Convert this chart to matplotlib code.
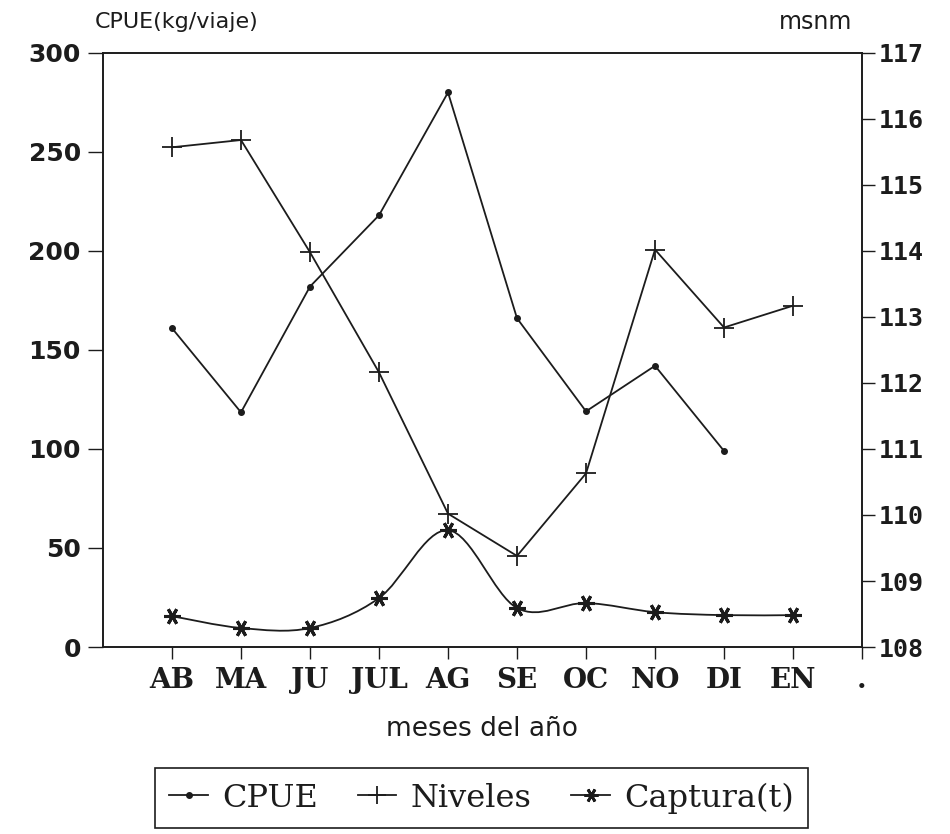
import matplotlib.pyplot as plt
import numpy as np
from matplotlib.lines import Line2D
from matplotlib.path import Path
from matplotlib.patches import PathPatch

MESES = ["AB", "MA", "JU", "JUL", "AG", "SE", "OC", "NO", "DI", "EN"]
CPUE = [161, 118.5, 182, 218, 280, 166, 119, 142, 99]          # kg/viaje, AB..DI
NIVELES = [115.57, 115.68, 113.98, 112.16, 110.02, 109.38, 110.63, 114.02, 112.84, 113.17]  # msnm
CAPTURA = [15.6, 9.6, 9.6, 24.7, 59, 19.7, 22.2, 17.6, 16.1, 16.1]  # t

INK = "#1c1c1c"

plt.rcParams.update({
    "figure.facecolor": "white",
    "axes.facecolor": "white",
    "axes.edgecolor": INK,
    "text.color": INK,
    "xtick.color": INK,
    "ytick.color": INK,
})


def smooth_path(xs, ys):
    # Catmull-Rom curve through the points, as cubic bezier segments
    pts = np.column_stack([xs, ys]).astype(float)
    n = len(pts)
    verts = [pts[0]]
    codes = [Path.MOVETO]
    for i in range(n - 1):
        p0 = pts[i - 1] if i > 0 else pts[i]
        p1, p2 = pts[i], pts[i + 1]
        p3 = pts[i + 2] if i + 2 < n else pts[i + 1]
        verts += [p1 + (p2 - p0) / 6, p2 - (p3 - p1) / 6, p2]
        codes += [Path.CURVE4] * 3
    return Path(verts, codes)


fig = plt.figure(figsize=(9.5, 8.34), dpi=100)
ax = fig.add_axes([0.1084, 0.2242, 0.799, 0.7124])
ax2 = ax.twinx()

x_all = np.arange(1, len(MESES) + 1)

ax.plot(x_all[:len(CPUE)], CPUE, color=INK, lw=1.3, marker="o", ms=4, zorder=3)

ax.add_patch(PathPatch(smooth_path(x_all, CAPTURA), facecolor="none", edgecolor=INK, lw=1.3, zorder=3))
cap_marker = (6, 2, 30)
ax.plot(x_all, CAPTURA, ls="none", marker=cap_marker, ms=12, mew=2.2, color=INK, zorder=4)

ax2.plot(x_all, NIVELES, color=INK, lw=1.3, marker="+", ms=15, mew=1.3, zorder=3)

ax.set_xlim(0, 11)
ax.set_ylim(0, 300)
ax2.set_ylim(108, 117)

ax.set_xticks(list(x_all) + [11])
ax.set_xticklabels(MESES + ["."], fontsize=20, fontweight="bold", family="DejaVu Serif")
ax.set_yticks(range(0, 301, 50))
ax.tick_params(axis="y", direction="out", length=11, width=1, pad=5)
for lab in ax.get_yticklabels():
    lab.set_fontsize(18)
    lab.set_fontweight("bold")
ax.tick_params(axis="x", direction="out", length=8.6, width=1, pad=6)

ax2.set_yticks(range(108, 118))
ax2.tick_params(axis="y", direction="out", length=9, width=1, pad=3)
for lab in ax2.get_yticklabels():
    lab.set_fontsize(18)
    lab.set_fontweight("bold")
    lab.set_family("DejaVu Sans Mono")

for a in (ax, ax2):
    for sp in a.spines.values():
        sp.set_linewidth(1.2)
        sp.set_color(INK)

fig.text(95 / 950, 1 - 22 / 834, "CPUE(kg/viaje)", fontsize=16, ha="left", va="center")
fig.text(852 / 950, 1 - 22 / 834, "msnm", fontsize=17, ha="right", va="center")
fig.text(482 / 950, 1 - 729 / 834, "meses del año", fontsize=19, ha="center", va="center")

handles = [
    Line2D([], [], color=INK, lw=1.3, marker="o", ms=4),
    Line2D([], [], color=INK, lw=1.3, marker="+", ms=13, mew=1.3),
    Line2D([], [], color=INK, lw=1.3, marker=cap_marker, ms=10, mew=2.0),
]
leg = fig.legend(
    handles, ["CPUE", "Niveles", "Captura(t)"],
    loc="upper left", bbox_to_anchor=(155 / 950, 1 - 768 / 834),
    ncol=3, prop={"family": "DejaVu Serif", "size": 23},
    frameon=True, fancybox=False, edgecolor=INK, framealpha=1,
    handlelength=1.2, handletextpad=0.45, columnspacing=1.25,
    borderpad=0.45, borderaxespad=0,
)
leg.get_frame().set_linewidth(1.2)

fig.savefig("out.png", dpi=100)
